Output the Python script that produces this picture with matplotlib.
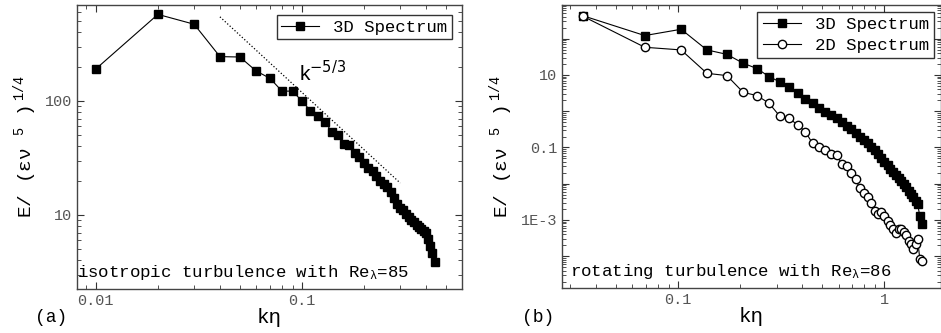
import numpy as np
import matplotlib.pyplot as plt
from matplotlib.ticker import LogLocator, FixedLocator, FuncFormatter, NullFormatter

plt.rcParams['font.family'] = ['Liberation Mono', 'DejaVu Sans Mono']
plt.rcParams['mathtext.fontset'] = 'custom'
plt.rcParams['mathtext.rm'] = 'Liberation Mono'
plt.rcParams['mathtext.it'] = 'Liberation Mono'
plt.rcParams['mathtext.default'] = 'rm'

# panel (a): isotropic turbulence
k_iso = [0.01, 0.02, 0.03, 0.04, 0.05, 0.06, 0.07, 0.08, 0.09, 0.10,
         0.11, 0.12, 0.13, 0.14, 0.15, 0.16, 0.17, 0.18, 0.19, 0.20,
         0.21, 0.22, 0.23, 0.24, 0.25, 0.26, 0.27, 0.28, 0.29, 0.30,
         0.31, 0.32, 0.33, 0.34, 0.35, 0.36, 0.37, 0.38, 0.39, 0.40,
         0.41, 0.42, 0.43, 0.44]
E_iso = [191, 575, 471, 245, 243, 183, 158, 122, 122, 100,
         82, 74, 65, 53, 50, 42, 41, 35, 32, 28.5,
         26, 24.5, 22, 20, 18.5, 17.5, 16, 14, 12.5, 11.5,
         11, 10.2, 9.6, 9.1, 8.7, 8.2, 7.9, 7.5, 7.2, 6.9,
         6.2, 5.3, 4.6, 3.9]
# k^-5/3 guide line end points
k_guide = [0.04, 0.30]
guide_const = 2.56

# panel (b): rotating turbulence
k_rot = [0.0345, 0.069, 0.1035, 0.138, 0.1725, 0.207, 0.2415, 0.276, 0.3105, 0.345,
         0.3795, 0.414, 0.4485, 0.483, 0.5175, 0.552, 0.5865, 0.621, 0.6555, 0.69,
         0.7245, 0.759, 0.7935, 0.828, 0.8625, 0.897, 0.9315, 0.966, 1.0005, 1.035,
         1.0695, 1.104, 1.1385, 1.173, 1.2075, 1.242, 1.2765, 1.311, 1.3455, 1.38,
         1.4145, 1.449, 1.4835, 1.518]
E3_rot = [433, 122, 182, 49, 37, 21, 15, 9.0, 6.5, 4.6,
          3.1, 2.2, 1.7, 1.26, 0.97, 0.78, 0.64, 0.50, 0.40, 0.32,
          0.25, 0.20, 0.16, 0.13, 0.105, 0.083, 0.066, 0.052, 0.041, 0.033,
          0.026, 0.021, 0.017, 0.0145, 0.0120, 0.0098, 0.0080, 0.0064, 0.0052, 0.0042,
          0.0034, 0.0027, 0.0013, 0.00076]
E2_rot = [420, 58, 49, 11.1, 9.6, 3.3, 2.7, 1.66, 0.74, 0.64,
          0.42, 0.27, 0.13, 0.105, 0.085, 0.065, 0.062, 0.035, 0.030, 0.0195,
          0.0135, 0.0075, 0.0055, 0.0044, 0.0029, 0.0018, 0.0015, 0.0017, 0.0013, 0.00095,
          0.00075, 0.00055, 0.00045, 0.00058, 0.00055, 0.00048, 0.00038, 0.00026, 0.00022, 0.00016,
          0.00022, 0.00029, 0.000085, 0.000072]

ylab = 'E/ (εν $^{5}$ )$^{\\ 1/4}$'
grey = '#555555'

fig = plt.figure(figsize=(9.41, 3.33), dpi=100)
ax1 = fig.add_axes([77/941, 44/333, 385/941, 284/333])
ax2 = fig.add_axes([562/941, 45/333, 379/941, 283/333])

for ax in (ax1, ax2):
    ax.set_xscale('log')
    ax.set_yscale('log')
    ax.tick_params(which='both', direction='in', top=True, right=True,
                   labelsize=11, labelcolor=grey, color='#333333')
    ax.tick_params(which='major', length=5, width=0.8)
    ax.tick_params(which='minor', length=3, width=0.6)
    for s in ax.spines.values():
        s.set_color('#444444')
        s.set_linewidth(1.0)

# (a)
ax1.plot(k_iso, E_iso, '-s', color='black', lw=0.8, ms=5.5, label='3D Spectrum')
kg = np.array(k_guide)
ax1.plot(kg, guide_const * kg ** (-5.0 / 3.0), ':', color='black', lw=0.9)
ax1.text(0.097, 150, r'k$^{-5/3}$', family='Liberation Sans', fontsize=15,
         math_fontfamily='dejavusans')
ax1.set_xlim(0.0081, 0.598)
ax1.set_ylim(2.24, 695)
ax1.xaxis.set_major_locator(FixedLocator([0.01, 0.1]))
ax1.xaxis.set_major_formatter(FuncFormatter(lambda v, p: '%g' % v))
ax1.xaxis.set_minor_locator(LogLocator(base=10, subs=np.arange(2, 10), numticks=20))
ax1.xaxis.set_minor_formatter(NullFormatter())
ax1.yaxis.set_major_locator(FixedLocator([10, 100]))
ax1.yaxis.set_major_formatter(FuncFormatter(lambda v, p: '%g' % v))
ax1.yaxis.set_minor_locator(LogLocator(base=10, subs=np.arange(2, 10), numticks=20))
ax1.yaxis.set_minor_formatter(NullFormatter())
ax1.legend(loc='upper right', fontsize=12.5, frameon=True, fancybox=False,
           edgecolor='black', handlelength=2.2, borderpad=0.25,
           borderaxespad=0.6)
ax1.text(0.0, 0.058, r'isotropic turbulence with Re$_{\lambda}$=85',
         transform=ax1.transAxes, fontsize=12.5, va='center', ha='left')
ax1.set_xlabel('kη', fontsize=15, labelpad=0)
ax1.set_ylabel(ylab, fontsize=14, labelpad=4)
fig.text(35/941, 1 - 318/333, '(a)', fontsize=13, va='center')

# (b)
ax2.plot(k_rot, E3_rot, '-s', color='black', lw=0.8, ms=5.5, label='3D Spectrum')
ax2.plot(k_rot, E2_rot, '-o', color='black', mfc='white', lw=0.8, ms=6,
         label='2D Spectrum')
ax2.set_xlim(0.0274, 1.88)
ax2.set_ylim(1.33e-5, 850)
ax2.xaxis.set_major_locator(FixedLocator([0.1, 1]))
ax2.xaxis.set_major_formatter(FuncFormatter(lambda v, p: '%g' % v))
ax2.xaxis.set_minor_locator(LogLocator(base=10, subs=np.arange(2, 10), numticks=20))
ax2.xaxis.set_minor_formatter(NullFormatter())
ax2.yaxis.set_major_locator(FixedLocator([1e-4, 1e-3, 1e-2, 0.1, 1, 10, 100]))
ylabels = {10: '10', 0.1: '0.1', 1e-3: '1E-3'}


def fmt_b(v, p):
    for key, txt in ylabels.items():
        if abs(np.log10(v) - np.log10(key)) < 1e-6:
            return txt
    return ''


ax2.yaxis.set_major_formatter(FuncFormatter(fmt_b))
ax2.yaxis.set_minor_locator(LogLocator(base=10, subs=np.arange(2, 10), numticks=30))
ax2.yaxis.set_minor_formatter(NullFormatter())
ax2.legend(loc='upper right', fontsize=12.5, frameon=True, fancybox=False,
           edgecolor='black', handlelength=2.2, borderpad=0.3,
           borderaxespad=0.4, labelspacing=0.3)
ax2.text(0.02, 0.058, r'rotating turbulence with Re$_{\lambda}$=86',
         transform=ax2.transAxes, fontsize=12.5, va='center', ha='left')
ax2.set_xlabel('kη', fontsize=15, labelpad=0)
ax2.set_ylabel(ylab, fontsize=14, labelpad=4)
fig.text(522/941, 1 - 318/333, '(b)', fontsize=13, va='center')

fig.savefig('out.png', dpi=100)
